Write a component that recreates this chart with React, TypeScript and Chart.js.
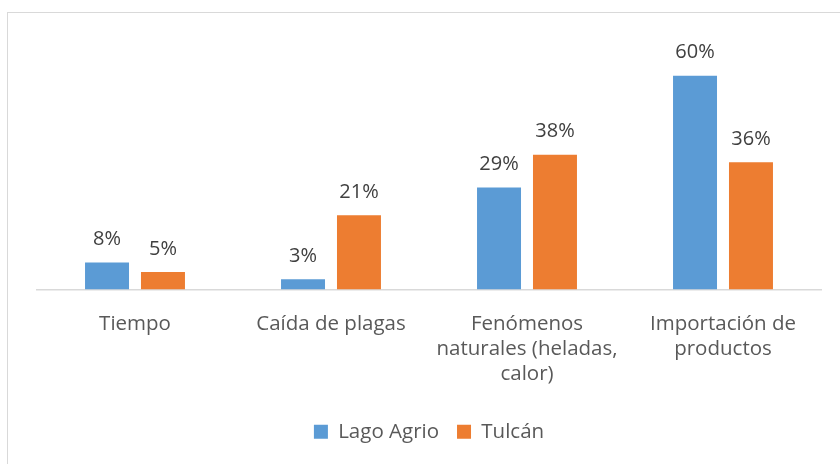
import React, { useEffect, useRef } from "react";
import { Chart, registerables } from "chart.js";

Chart.register(...registerables);

const categories: string[][] = [
  ["Tiempo"],
  ["Caída de plagas"],
  ["Fenómenos", "naturales (heladas,", "calor)"],
  ["Importación de", "productos"],
];
const seriesNames = ["Lago Agrio", "Tulcán"];
const lagoAgrio = [7.6, 2.9, 28.6, 60];
const tulcan = [4.9, 20.8, 37.8, 35.7];
const seriesColors = ["#5B9BD5", "#ED7D31"];

const FONT = "'Open Sans', Lato, sans-serif";

const dataLabelPlugin = {
  id: "dataLabels",
  afterDatasetsDraw(chart: any) {
    const ctx = chart.ctx;
    ctx.save();
    ctx.font = `20px ${FONT}`;
    ctx.fillStyle = "#404040";
    ctx.textAlign = "center";
    ctx.textBaseline = "middle";
    chart.data.datasets.forEach((ds: any, i: number) => {
      const meta = chart.getDatasetMeta(i);
      meta.data.forEach((el: any, j: number) => {
        const v = ds.data[j];
        ctx.fillText(`${Math.round(v)}%`, el.x, el.y - 23);
      });
    });
    ctx.restore();
  },
};

export default function App() {
  const ref = useRef<HTMLCanvasElement | null>(null);
  useEffect(() => {
    if (!ref.current) return;
    const chart = new Chart(ref.current, {
      type: "bar",
      data: {
        labels: categories,
        datasets: [
          {
            label: seriesNames[0],
            data: lagoAgrio,
            backgroundColor: seriesColors[0],
          },
          {
            label: seriesNames[1],
            data: tulcan,
            backgroundColor: seriesColors[1],
          },
        ],
      },
      options: {
        responsive: false,
        animation: false,
        categoryPercentage: 0.571,
        barPercentage: 0.786,
        layout: { padding: { left: 37, right: 19, top: 40, bottom: 12 } },
        scales: {
          x: {
            grid: { display: false },
            border: { display: true, color: "#d9d9d9", width: 1.5 },
            ticks: {
              color: "#595959",
              font: { family: FONT, size: 20.5, lineHeight: 1.22 },
              padding: 14,
              maxRotation: 0,
              autoSkip: false,
            },
            afterFit(scale: any) {
              scale.height = 114;
            },
          },
          y: {
            display: false,
            min: 0,
            max: 70,
          },
        },
        plugins: {
          legend: {
            position: "bottom",
            labels: {
              boxWidth: 14,
              boxHeight: 14,
              color: "#595959",
              font: { family: FONT, size: 20.5 },
              padding: 18,
            },
          },
          tooltip: { enabled: false },
        },
      },
      plugins: [dataLabelPlugin],
    });
    return () => chart.destroy();
  }, []);

  return (
    <div style={{ position: "fixed", left: 0, top: 0, width: 840, height: 464, background: "#fff", overflow: "hidden" }}>
      <div
        style={{
          position: "absolute",
          left: 7,
          top: 12,
          width: 900,
          height: 500,
          borderLeft: "1.5px solid #d9d9d9",
          borderTop: "1.5px solid #d9d9d9",
        }}
      />
      <canvas ref={ref} width={840} height={464} style={{ position: "absolute", left: 0, top: 0, width: 840, height: 464 }} />
    </div>
  );
}
